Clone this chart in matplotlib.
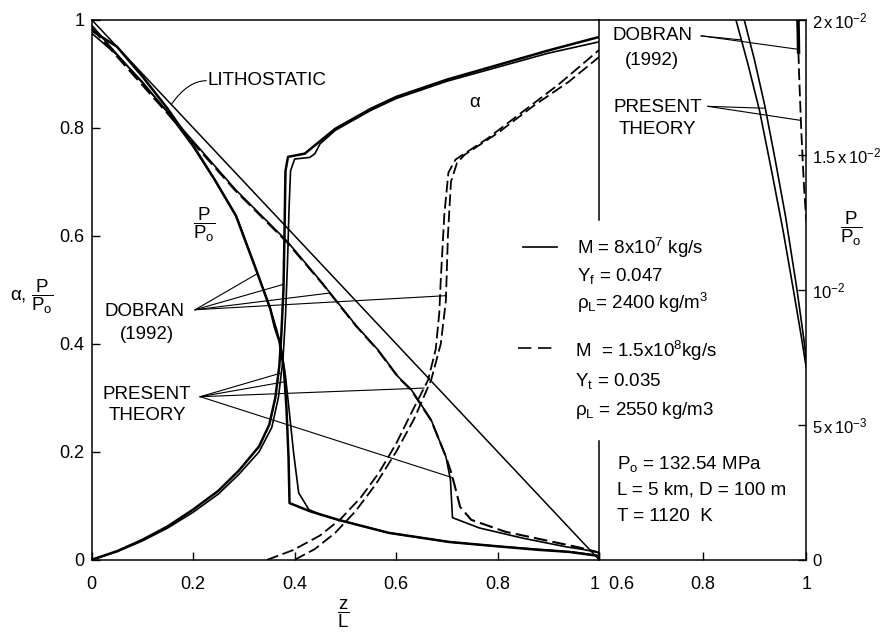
import numpy as np
import matplotlib.pyplot as plt

plt.rcParams['font.family'] = ['Liberation Sans', 'DejaVu Sans']
plt.rcParams['mathtext.fontset'] = 'custom'
plt.rcParams['mathtext.rm'] = 'Liberation Sans'
plt.rcParams['mathtext.it'] = 'Liberation Sans:italic'
plt.rcParams['mathtext.bf'] = 'Liberation Sans:bold'

# --- main panel: z/L from 0 to 1 ---
z_lith = [0.0, 1.0]
p_lith = [1.0, 0.0]

# case 1 (M = 8e7 kg/s), pressure
z_p1_dob = [0, 0.05, 0.10, 0.15, 0.198, 0.241, 0.284, 0.325, 0.352, 0.361, 0.370, 0.379,
            0.384, 0.388, 0.390, 0.43, 0.486, 0.585, 0.705, 0.80, 0.88, 0.94, 1.0]
p_p1_dob = [0.98, 0.95, 0.895, 0.835, 0.770, 0.706, 0.638, 0.535, 0.465, 0.430, 0.405, 0.352,
            0.28, 0.19, 0.105, 0.090, 0.074, 0.050, 0.033, 0.025, 0.0185, 0.0148, 0.0071]
z_p1_pre = [0, 0.05, 0.10, 0.15, 0.20, 0.245, 0.287, 0.327, 0.353, 0.365, 0.375, 0.382,
            0.390, 0.398, 0.408, 0.428, 0.45, 0.486, 0.585, 0.705, 0.80, 0.90, 0.96, 1.0]
p_p1_pre = [0.975, 0.935, 0.885, 0.828, 0.765, 0.700, 0.632, 0.530, 0.462, 0.425, 0.385, 0.34,
            0.27, 0.198, 0.124, 0.093, 0.084, 0.074, 0.050, 0.033, 0.025, 0.018, 0.013, 0.0074]

# case 1, void fraction
z_a1_dob = [0, 0.05, 0.10, 0.15, 0.20, 0.25, 0.29, 0.33, 0.35, 0.362, 0.370, 0.374, 0.378,
            0.380, 0.382, 0.387, 0.42, 0.48, 0.55, 0.60, 0.70, 0.80, 0.90, 1.0]
a_a1_dob = [0, 0.016, 0.037, 0.062, 0.093, 0.128, 0.165, 0.21, 0.25, 0.30, 0.36, 0.42, 0.50,
            0.60, 0.72, 0.746, 0.752, 0.798, 0.835, 0.857, 0.889, 0.916, 0.943, 0.968]
z_a1_pre = [0, 0.05, 0.10, 0.15, 0.20, 0.25, 0.29, 0.33, 0.355, 0.368, 0.377, 0.382, 0.386,
            0.389, 0.392, 0.40, 0.43, 0.44, 0.45, 0.48, 0.55, 0.60, 0.70, 0.80, 0.90, 1.0]
a_a1_pre = [0, 0.015, 0.035, 0.059, 0.088, 0.122, 0.158, 0.20, 0.245, 0.30, 0.37, 0.45, 0.55,
            0.65, 0.72, 0.742, 0.745, 0.752, 0.77, 0.795, 0.832, 0.854, 0.886, 0.912, 0.938, 0.959]

# case 2 (M = 1.5e8 kg/s), pressure
z_p2_dob = [0, 0.05, 0.10, 0.15, 0.20, 0.284, 0.385, 0.454, 0.52, 0.564, 0.604, 0.63, 0.669,
            0.698, 0.707, 0.711, 0.764, 0.85, 0.935, 0.97, 1.0]
p_p2_dob = [0.99, 0.936, 0.883, 0.829, 0.775, 0.685, 0.59, 0.513, 0.435, 0.389, 0.339, 0.315,
            0.259, 0.191, 0.148, 0.078, 0.059, 0.040, 0.024, 0.019, 0.013]
z_p2_pre = [0, 0.05, 0.10, 0.15, 0.20, 0.284, 0.385, 0.454, 0.52, 0.564, 0.604, 0.63, 0.669,
            0.698, 0.709, 0.716, 0.726, 0.748, 0.815, 0.90, 0.96, 1.0]
p_p2_pre = [0.985, 0.932, 0.879, 0.826, 0.772, 0.683, 0.588, 0.512, 0.434, 0.388, 0.338, 0.314,
            0.258, 0.191, 0.160, 0.135, 0.098, 0.074, 0.052, 0.035, 0.023, 0.0135]

# case 2, void fraction
z_a2_pre = [0.346, 0.397, 0.45, 0.49, 0.53, 0.566, 0.60, 0.63, 0.663, 0.678, 0.685, 0.688,
            0.695, 0.703, 0.717, 0.78, 0.85, 0.92, 1.0]
a_a2_pre = [0, 0.018, 0.045, 0.075, 0.115, 0.161, 0.215, 0.272, 0.333, 0.39, 0.457, 0.52,
            0.64, 0.717, 0.741, 0.78, 0.83, 0.88, 0.944]
z_a2_dob = [0.40, 0.44, 0.48, 0.52, 0.56, 0.60, 0.635, 0.669, 0.688, 0.698, 0.702, 0.708,
            0.72, 0.735, 0.80, 0.87, 0.94, 1.0]
a_a2_dob = [0, 0.02, 0.05, 0.09, 0.14, 0.20, 0.26, 0.333, 0.40, 0.48, 0.60, 0.70,
            0.735, 0.75, 0.79, 0.84, 0.885, 0.931]

# --- right panel: z/L from 0.6 to 1, P/Po up to 0.02 ---
zi_p1_dob = [0.864, 0.888, 0.910, 0.935, 0.955, 0.975, 0.99, 1.0]
pi_p1_dob = [0.0200, 0.0183, 0.0166, 0.0142, 0.0122, 0.0100, 0.0083, 0.0071]
zi_p1_pre = [0.880, 0.900, 0.920, 0.940, 0.960, 0.982, 0.995, 1.0]
pi_p1_pre = [0.0200, 0.0185, 0.0168, 0.0148, 0.0127, 0.0100, 0.0082, 0.0074]
zi_p2_dob = [0.984, 0.985]
pi_p2_dob = [0.0200, 0.0188]
zi_p2_pre = [0.983, 0.986, 0.990, 0.995, 1.0]
pi_p2_pre = [0.0200, 0.0180, 0.0160, 0.0140, 0.0125]

right_ticks = [0, 0.005, 0.01, 0.015, 0.02]
right_labels = ['0', r'5$\,$x$\,$10$^{-3}$', r'10$^{-2}$',
                r'1.5$\,$x$\,$10$^{-2}$', r'2$\,$x$\,$10$^{-2}$']

K = 'black'
DASH = (0, (6.5, 2.5))
FS = 13.5


def point_on(zs, ys, level):
    # point of a monotonic curve at a given height
    zs = np.asarray(zs, float)
    ys = np.asarray(ys, float)
    if ys[0] > ys[-1]:
        zs, ys = zs[::-1], ys[::-1]
    return float(np.interp(level, ys, zs)), level


def leaders(a, origin, targets):
    for zt, yt in targets:
        a.plot([origin[0], zt], [origin[1], yt], color=K, lw=0.8)


fig = plt.figure(figsize=(8.89, 6.34), dpi=100)
ax = fig.add_axes([0.103, 0.117, 0.571, 0.852])
axr = fig.add_axes([0.674, 0.117, 0.233, 0.852])
axr.set_facecolor('none')

ax.plot(z_lith, p_lith, color=K, lw=1.1)
ax.plot(z_p1_dob, p_p1_dob, color=K, lw=1.8)
ax.plot(z_p1_pre, p_p1_pre, color=K, lw=1.2)
ax.plot(z_a1_dob, a_a1_dob, color=K, lw=1.8)
ax.plot(z_a1_pre, a_a1_pre, color=K, lw=1.2)
ax.plot(z_p2_dob, p_p2_dob, color=K, lw=1.2)
ax.plot(z_p2_pre, p_p2_pre, color=K, lw=1.5, linestyle=DASH)
ax.plot(z_a2_pre, a_a2_pre, color=K, lw=1.3, linestyle=DASH)
ax.plot(z_a2_dob, a_a2_dob, color=K, lw=1.3, linestyle=DASH)

axr.plot(zi_p1_dob, pi_p1_dob, color=K, lw=1.2)
axr.plot(zi_p1_pre, pi_p1_pre, color=K, lw=1.2)
axr.plot(zi_p2_dob, pi_p2_dob, color=K, lw=2.5)
axr.plot(zi_p2_pre, pi_p2_pre, color=K, lw=1.3, linestyle=DASH)

# axes frame
ax.set_xlim(0, 1)
ax.set_ylim(0, 1)
axr.set_xlim(0.6, 1)
axr.set_ylim(0, 0.02)
for a in (ax, axr):
    for s in a.spines.values():
        s.set_linewidth(1.1)
ax.spines['right'].set_visible(False)
axr.spines['left'].set_visible(False)
ax.plot([1, 1], [0, 0.22], color=K, lw=1.1, clip_on=False)
ax.plot([1, 1], [0.63, 1], color=K, lw=1.1, clip_on=False)

ax.set_xticks([0, 0.2, 0.4, 0.6, 0.8, 1], ['0', '0.2', '0.4', '0.6', '0.8', '1'])
ax.set_yticks([0, 0.2, 0.4, 0.6, 0.8, 1], ['0', '0.2', '0.4', '0.6', '0.8', '1'])
ax.tick_params(direction='in', length=6, width=1.0, labelsize=13)
ax.tick_params(axis='x', pad=12)
ax.tick_params(axis='y', pad=5)
ax.get_xticklabels()[-1].set_horizontalalignment('right')

axr.set_xticks([0.6, 0.8, 1.0], ['  0.6', '0.8', '1'])
axr.set_yticks(right_ticks, right_labels)
axr.yaxis.tick_right()
axr.tick_params(direction='in', length=6, width=1.0, labelsize=13)
axr.tick_params(axis='x', pad=12)
axr.tick_params(axis='y', pad=4, labelsize=12)
axr.get_xticklabels()[0].set_horizontalalignment('left')

# labels on the main panel
lith_target = (0.157, float(np.interp(0.157, z_lith, p_lith)))
ax.text(0.229, 0.887, 'LITHOSTATIC', ha='left', va='center', fontsize=FS)
ax.annotate('', xy=lith_target, xytext=(0.226, 0.887),
            arrowprops=dict(arrowstyle='-', lw=0.8, shrinkA=0, shrinkB=0,
                            connectionstyle='angle3,angleA=0,angleB=55'))
ax.text(0.221, 0.62, r'$\dfrac{\mathrm{P}}{\mathrm{P_o}}$', ha='center', va='center', fontsize=FS)
ax.text(0.755, 0.846, 'α', ha='center', va='center', fontsize=FS)

ax.text(0.105, 0.459, 'DOBRAN', ha='center', va='center', fontsize=FS)
ax.text(0.109, 0.417, '(1992)', ha='center', va='center', fontsize=FS)
leaders(ax, (0.204, 0.463), [point_on(z_p1_dob, p_p1_dob, 0.53),
                             point_on(z_a1_dob, a_a1_dob, 0.51),
                             point_on(z_p2_dob, p_p2_dob, 0.494),
                             point_on(z_a2_dob, a_a2_dob, 0.489)])
ax.text(0.109, 0.306, 'PRESENT', ha='center', va='center', fontsize=FS)
ax.text(0.109, 0.267, 'THEORY', ha='center', va='center', fontsize=FS)
leaders(ax, (0.214, 0.302), [point_on(z_a1_pre, a_a1_pre, 0.346),
                             point_on(z_p1_pre, p_p1_pre, 0.33),
                             point_on(z_a2_pre, a_a2_pre, 0.318),
                             point_on(z_p2_pre, p_p2_pre, 0.152)])

# case legend
ax.plot([0.85, 0.917], [0.58, 0.58], color=K, lw=1.2)
ax.text(0.957, 0.578, r'M = 8x10$^{7}$ kg/s', ha='left', va='center', fontsize=FS)
ax.text(0.957, 0.526, r'Y$_{\mathrm{f}}$ = 0.047', ha='left', va='center', fontsize=FS)
ax.text(0.957, 0.476, r'ρ$_{\mathrm{L}}$= 2400 kg/m$^{3}$', ha='left', va='center', fontsize=FS)
ax.plot([0.84, 0.917], [0.393, 0.393], color=K, lw=1.2, linestyle=(0, (8, 4)))
ax.text(0.953, 0.387, r'M  = 1.5x10$^{8}$kg/s', ha='left', va='center', fontsize=FS)
ax.text(0.953, 0.331, r'Y$_{\mathrm{t}}$ = 0.035', ha='left', va='center', fontsize=FS)
ax.text(0.953, 0.276, r'ρ$_{\mathrm{L}}$ = 2550 kg/m3', ha='left', va='center', fontsize=FS)

ax.text(1.035, 0.178, r'P$_{\mathrm{o}}$ = 132.54 MPa', ha='left', va='center', fontsize=FS)
ax.text(1.035, 0.130, 'L = 5 km, D = 100 m', ha='left', va='center', fontsize=FS)
ax.text(1.035, 0.081, 'T = 1120  K', ha='left', va='center', fontsize=FS)

# labels on the right panel
axr.text(0.702, 0.0194, 'DOBRAN', ha='center', va='center', fontsize=FS)
axr.text(0.702, 0.01847, '(1992)', ha='center', va='center', fontsize=FS)
leaders(axr, (0.797, 0.0194), [point_on(zi_p1_dob, pi_p1_dob, 0.01925),
                               point_on(zi_p2_dob, pi_p2_dob, 0.0189)])
axr.text(0.714, 0.01675, 'PRESENT', ha='center', va='center', fontsize=FS)
axr.text(0.712, 0.01593, 'THEORY', ha='center', va='center', fontsize=FS)
leaders(axr, (0.81, 0.01679), [point_on(zi_p1_pre, pi_p1_pre, 0.01672),
                               point_on(zi_p2_pre, pi_p2_pre, 0.01627)])

# axis titles
fig.text(0.036, 0.532, r'α, $\dfrac{\mathrm{P}}{\mathrm{P_o}}$', ha='center', va='center', fontsize=FS)
fig.text(0.386, 0.033, r'$\dfrac{\mathrm{z}}{\mathrm{L}}$', ha='center', va='center', fontsize=FS)
fig.text(0.957, 0.64, r'$\dfrac{\mathrm{P}}{\mathrm{P_o}}$', ha='center', va='center', fontsize=FS)

fig.savefig('out.png', dpi=100)
